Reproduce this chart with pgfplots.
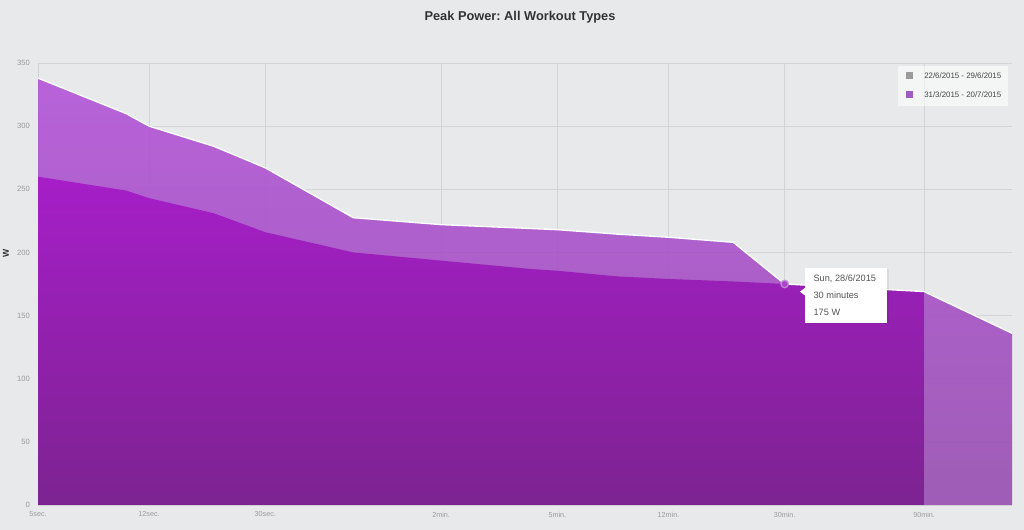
\documentclass[border=0pt]{standalone}
\usepackage{pgfplots}
\pgfplotsset{compat=1.18}
\usepackage{pgfplotstable}
\usepackage{fontspec}
\setmainfont{Liberation Sans}
\frenchspacing
\definecolor{bg}{HTML}{E8E9EB}
\definecolor{gridc}{HTML}{D3D4D6}
\definecolor{axc}{HTML}{CFD0D3}
\definecolor{ticktxt}{HTML}{9A9A9A}
\definecolor{uptop}{RGB}{178,80,216}
\definecolor{upbot}{RGB}{149,74,175}
\definecolor{dktop}{HTML}{A61EC8}
\definecolor{dkbot}{HTML}{7D2391}
\definecolor{titlec}{HTML}{333333}
\definecolor{legtxt}{HTML}{444444}
\definecolor{tiptxt}{HTML}{555555}
\definecolor{leggray}{HTML}{9B9B9B}
\definecolor{legpurple}{HTML}{A05CC0}
\definecolor{ringc}{HTML}{BE96D2}

\pgfplotstableread{
t W
5 338
10 310
12 300
20 284
30 267
60 227.5
120 222
240 219
300 218
480 214.5
720 212
1200 208
1800 175
5400 169
10800 136
}\upperdata

\pgfplotstableread{
t W
5 260
10 249
12 243
20 231
30 216
60 200
120 193.5
240 187
300 185.5
480 181
720 179
1200 177
1800 175
5400 169
}\lowerdata

\begin{document}
\begin{tikzpicture}
\fill[bg] (-28.5pt,-18.75pt) rectangle (739.5pt,378.75pt);
\begin{axis}[
  at={(0,0)}, anchor=south west,
  scale only axis, width=730.5pt, height=331.5pt,
  xmode=log, xmin=5, xmax=10800,
  ymin=0, ymax=350,
  ytick={0,50,...,350},
  xtick={5,12,30,120,300,720,1800,5400},
  xticklabels={5sec.,12sec.,30sec.,2min.,5min.,12min.,30min.,90min.},
  minor xtick={}, minor tick num=0,
  grid=major,
  major grid style={draw=gridc, line width=0.5pt},
  axis lines*=left,
  axis line style={draw=axc, line width=0.6pt, -},
  tick style={draw=none},
  /pgf/number format/assume math mode=true,
  yticklabel style={font=\fontsize{5.7}{6}\selectfont, text=ticktxt, anchor=east, inner sep=0pt, xshift=-6pt},
  xticklabel style={font=\fontsize{5.4}{6}\selectfont, text=ticktxt, anchor=north, inner sep=0pt, yshift=-5pt},
  clip=false,
]
\addplot[draw=none, top color=uptop, bottom color=upbot, fill opacity=0.88] table[x=t,y=W] {\upperdata} \closedcycle;
\addplot[draw=none, top color=dktop, bottom color=dkbot] table[x=t,y=W] {\lowerdata} \closedcycle;
\addplot[white, line width=1pt] table[x=t,y=W] {\upperdata};
\addplot[only marks, mark=*, mark size=2.8pt, mark options={draw=ringc, fill=dktop!70!ringc, line width=1pt, draw opacity=0.85}] coordinates {(1800,175)};
\end{axis}
% y label
\node[rotate=90, font=\bfseries\fontsize{6.5}{7}\selectfont, text=titlec] at (-24pt,189pt) {W};
% title
\node[font=\bfseries\fontsize{9.6}{11}\selectfont, text=titlec] at (361.5pt,366pt) {Peak Power: All Workout Types};
% legend
\fill[white, fill opacity=0.55] (645pt,299.25pt) rectangle (727.5pt,329.25pt);
\fill[leggray] (651pt,319.5pt) rectangle (656.25pt,324.75pt);
\fill[legpurple] (651pt,305.25pt) rectangle (656.25pt,310.5pt);
\node[anchor=west, inner sep=0pt, font=\fontsize{5.9}{7}\selectfont, text=legtxt] at (664.5pt,322.1pt) {22/6/2015 - 29/6/2015};
\node[anchor=west, inner sep=0pt, font=\fontsize{5.9}{7}\selectfont, text=legtxt] at (664.5pt,307.9pt) {31/3/2015 - 20/7/2015};
% tooltip
\fill[black, opacity=0.06] (576.5pt,135.5pt) rectangle (638pt,176.75pt);
\fill[white] (575.25pt,136.5pt) rectangle (636.75pt,177.75pt);
\fill[white] (575.5pt,163pt) -- (571.5pt,160pt) -- (575.5pt,157pt) -- cycle;
\node[anchor=west, inner sep=0pt, font=\fontsize{6.9}{8}\selectfont, text=tiptxt] at (581.5pt,169.5pt) {Sun, 28/6/2015};
\node[anchor=west, inner sep=0pt, font=\fontsize{6.9}{8}\selectfont, text=tiptxt] at (581.5pt,157.1pt) {30 minutes};
\node[anchor=west, inner sep=0pt, font=\fontsize{6.9}{8}\selectfont, text=tiptxt] at (581.5pt,144.6pt) {175 W};
\pgfresetboundingbox
\path[use as bounding box] (-28.5pt,-18.75pt) rectangle (739.5pt,378.75pt);
\end{tikzpicture}
\end{document}
